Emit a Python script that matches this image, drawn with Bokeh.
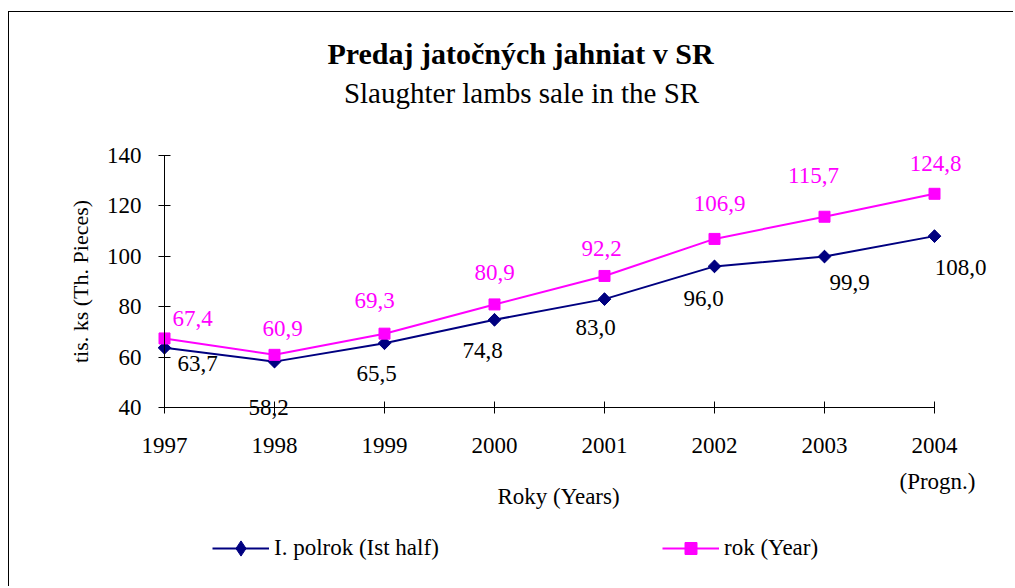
import math
from bokeh.plotting import figure
from bokeh.models import (ColumnDataSource, Range1d, FixedTicker, LabelSet, Label,
                          Legend, LegendItem)
from bokeh.core.properties import value
from bokeh.embed import file_html
from bokeh.resources import INLINE

# ---------------- data ----------------
years = [1997, 1998, 1999, 2000, 2001, 2002, 2003, 2004]
first_half = [63.7, 58.2, 65.5, 74.8, 83.0, 96.0, 99.9, 108.0]
full_year = [67.4, 60.9, 69.3, 80.9, 92.2, 106.9, 115.7, 124.8]
y_ticks = [40, 60, 80, 100, 120, 140]
forecast_note = "(Progn.)"

title_text = "Predaj jatočných jahniat v SR"
subtitle_text = "Slaughter lambs sale in the SR"
x_title = "Roky (Years)"
y_title = "tis. ks (Th. Pieces)"
name_half = "I. polrok (Ist half)"
name_year = "rok (Year)"

# ---------------- layout ----------------
# pixel offsets of the data labels
year_lbl_dx = [28, 8, -10, 0, -3, 5, -11, 1]
year_lbl_dy = [20, 26, 33, 32, 27, 35, 41, 30]
half_lbl_dx = [33, -6, -8, -12, -9, -11, 25, 26]
half_lbl_dy = [-16, -46, -30, -31, -28, -32, -26, -31]

NAVY = "#000080"
MAGENTA = "#FF00FF"
FONT = "Liberation Serif"

W, H = 1005, 575           # canvas size
CX0, CY0 = 9, 12           # canvas position on the page
AX_LEFT, AX_RIGHT = 164, 934   # page x of first / last category
AX_BOTTOM, AX_TOP = 407, 155   # page y of y=40 / y=140

ppx = (AX_RIGHT - AX_LEFT) / (years[-1] - years[0])
ppy = (AX_BOTTOM - AX_TOP) / (y_ticks[-1] - y_ticks[0])
x_start = years[0] - (AX_LEFT - CX0) / ppx
y_start = y_ticks[0] - (CY0 + H - AX_BOTTOM) / ppy


def sx(px):
    return px - CX0


def sy(py):
    return H - (py - CY0)


def fmt(v):
    return f"{v:.1f}".replace(".", ",")


p = figure(width=W, height=H,
           x_range=Range1d(x_start, x_start + W / ppx),
           y_range=Range1d(y_start, y_start + H / ppy),
           output_backend="svg", toolbar_location=None, min_border=0)
p.styles = {"border-left": "1px solid #000", "border-top": "1px solid #000",
            "margin-left": "8px", "margin-top": "11px"}
p.title.visible = False
p.outline_line_color = None
p.xgrid.visible = False
p.ygrid.visible = False
p.background_fill_color = "white"
p.border_fill_color = "white"

# x axis
xa = p.xaxis[0]
xa.fixed_location = y_ticks[0]
xa.ticker = FixedTicker(ticks=years)
xa.bounds = (years[0], years[-1])
xa.major_tick_in = 6
xa.major_tick_out = 6
xa.minor_tick_line_color = None
xa.axis_line_color = "black"
xa.major_tick_line_color = "black"
xa.major_label_text_font = FONT
xa.major_label_text_font_size = "23px"
xa.major_label_text_color = "black"
xa.major_label_standoff = 24

# y axis
ya = p.yaxis[0]
ya.fixed_location = years[0]
ya.ticker = FixedTicker(ticks=y_ticks)
ya.bounds = (y_ticks[0], y_ticks[-1])
ya.major_tick_in = 6
ya.major_tick_out = 6
ya.minor_tick_line_color = None
ya.axis_line_color = "black"
ya.major_tick_line_color = "black"
ya.major_label_text_font = FONT
ya.major_label_text_font_size = "23px"
ya.major_label_text_color = "black"
ya.major_label_standoff = 17

# series
r1 = p.line(years, first_half, line_color=NAVY, line_width=2)
# diamond marker (used as legend key), covered by a rotated square in the plot
key1 = p.scatter(years, first_half, marker="diamond", size=12,
                 fill_color=NAVY, line_color=NAVY)
s1 = p.scatter(years, first_half, marker="square", angle=math.pi / 4, size=9,
               fill_color=NAVY, line_color=NAVY)
r2 = p.line(years, full_year, line_color=MAGENTA, line_width=2)
s2 = p.scatter(years, full_year, marker="square", size=11,
               fill_color=MAGENTA, line_color=MAGENTA)

# data labels
src_half = ColumnDataSource(dict(x=years, y=first_half, t=[fmt(v) for v in first_half],
                                 dx=half_lbl_dx, dy=half_lbl_dy))
src_year = ColumnDataSource(dict(x=years, y=full_year, t=[fmt(v) for v in full_year],
                                 dx=year_lbl_dx, dy=year_lbl_dy))
p.add_layout(LabelSet(x="x", y="y", text="t", x_offset="dx", y_offset="dy", source=src_half,
                      text_font=value(FONT), text_font_size="23px", text_color="black",
                      text_align="center", text_baseline="middle"))
p.add_layout(LabelSet(x="x", y="y", text="t", x_offset="dx", y_offset="dy", source=src_year,
                      text_font=value(FONT), text_font_size="23px", text_color=MAGENTA,
                      text_align="center", text_baseline="middle"))

# titles and axis titles
def add_text(txt, px, py, size, bold=False, angle=0.0):
    p.add_layout(Label(x=sx(px), y=sy(py), x_units="screen", y_units="screen", text=txt,
                       text_font=FONT, text_font_style="bold" if bold else "normal",
                       text_font_size=size, text_color="black", angle=angle,
                       text_align="center", text_baseline="middle"))

add_text(title_text, 520, 53, "30px", bold=True)
add_text(subtitle_text, 521, 92, "29px")
add_text(x_title, 558, 496, "23px")
add_text(y_title, 80, 281, "22px", angle=math.pi / 2)
p.add_layout(Label(x=years[-1], y=sy(481), x_units="data", y_units="screen", text=forecast_note,
                   x_offset=3, text_font=FONT, text_font_size="23px",
                   text_color="black", text_align="center", text_baseline="middle"))

# legends
def make_legend(label, renderers, px_left, py_center, gh):
    return Legend(items=[LegendItem(label=label, renderers=renderers)],
                  location=(sx(px_left), sy(py_center + gh / 2)),
                  orientation="horizontal", border_line_color=None,
                  background_fill_alpha=0, padding=0, margin=0, spacing=0,
                  glyph_width=57, glyph_height=gh, label_height=gh, label_standoff=5,
                  label_text_font=FONT, label_text_font_size="23px",
                  label_text_color="black")

p.add_layout(make_legend(name_half, [r1, key1], 212, 548, 38))
p.add_layout(make_legend(name_year, [r2, s2], 662, 548, 30))

open("out.html", "w").write(file_html(p, INLINE))
